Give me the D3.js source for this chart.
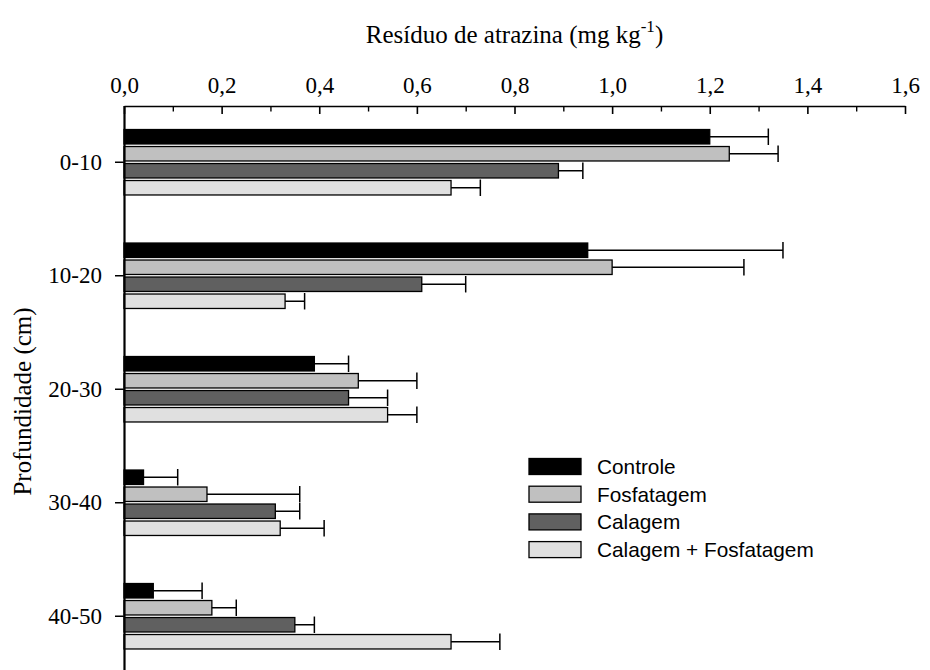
<!DOCTYPE html>
<html>
<head>
<meta charset="utf-8">
<script src="https://cdn.jsdelivr.net/npm/d3@7/dist/d3.min.js"></script>
<style>
  html, body { margin: 0; padding: 0; background: #fff; }
  svg { display: block; }
</style>
</head>
<body>
<svg id="chart" width="930" height="670"></svg>
<script>
// Atrazine residue by soil depth and treatment
const depths = ["0-10", "10-20", "20-30", "30-40", "40-50"];
const treatments = ["Controle", "Fosfatagem", "Calagem", "Calagem + Fosfatagem"];
const fills = ["#000000", "#c0c0c0", "#606060", "#e0e0e0"];

// mean residue (mg kg-1), one array per treatment, ordered by depth
const controle    = [1.20, 0.95, 0.39, 0.04, 0.06];
const fosfatagem  = [1.24, 1.00, 0.48, 0.17, 0.18];
const calagem     = [0.89, 0.61, 0.46, 0.31, 0.35];
const calagemFosf = [0.67, 0.33, 0.54, 0.32, 0.67];

// upper end of the error bar (mean + deviation)
const controleErr    = [1.32, 1.35, 0.46, 0.11, 0.16];
const fosfatagemErr  = [1.34, 1.27, 0.60, 0.36, 0.23];
const calagemErr     = [0.94, 0.70, 0.54, 0.36, 0.39];
const calagemFosfErr = [0.73, 0.37, 0.60, 0.41, 0.77];

const xTicks = [0, 0.2, 0.4, 0.6, 0.8, 1.0, 1.2, 1.4, 1.6];
const xMinorTicks = [0.1, 0.3, 0.5, 0.7, 0.9, 1.1, 1.3, 1.5];

const means = [controle, fosfatagem, calagem, calagemFosf];
const uppers = [controleErr, fosfatagemErr, calagemErr, calagemFosfErr];

const rows = [];
depths.forEach((d, i) => {
  treatments.forEach((t, j) => {
    rows.push({ depth: d, treatment: t, value: means[j][i], upper: uppers[j][i], fill: fills[j] });
  });
});

const svg = d3.select("#chart");
const serif = "'Liberation Serif', 'Times New Roman', serif";
const sans = "'Liberation Sans', Arial, sans-serif";

const x = d3.scaleLinear().domain([0, 1.6]).range([124, 905]);
const y = d3.scaleBand().domain(depths).range([105.5, 673]).paddingInner(0).paddingOuter(0);
const inner = d3.scaleBand().domain(treatments).range([-34, 34]).paddingInner(0.15).paddingOuter(0.075);

const fmt = d => d.toFixed(1).replace(".", ",");

// top value axis, ticks pointing into the plot
const axTop = svg.append("g").attr("transform", "translate(0,106)")
  .call(d3.axisTop(x).tickValues(xTicks).tickFormat(fmt).tickSize(-8).tickSizeOuter(0).tickPadding(13));
axTop.select(".domain").attr("stroke-width", 1.6);
axTop.selectAll(".tick line").attr("stroke-width", 1.6);
axTop.selectAll("text").attr("font-family", serif).attr("font-size", 23).attr("fill", "#000");

const axMinor = svg.append("g").attr("transform", "translate(0,106)")
  .call(d3.axisTop(x).tickValues(xMinorTicks).tickFormat("").tickSize(-5.5).tickSizeOuter(0));
axMinor.select(".domain").remove();
axMinor.selectAll(".tick line").attr("stroke-width", 1.4);

// bars
const bars = svg.append("g");
bars.selectAll("rect").data(rows).join("rect")
  .attr("x", x(0))
  .attr("y", d => y(d.depth) + y.bandwidth() / 2 + inner(d.treatment))
  .attr("width", d => x(d.value) - x(0))
  .attr("height", inner.bandwidth())
  .attr("fill", d => d.fill)
  .attr("stroke", "#000")
  .attr("stroke-width", 1.3);

// error bars
const errs = svg.append("g").attr("stroke", "#000").attr("stroke-width", 1.5);
rows.forEach(d => {
  const cy = y(d.depth) + y.bandwidth() / 2 + inner(d.treatment) + inner.bandwidth() / 2;
  errs.append("line").attr("x1", x(d.value)).attr("x2", x(d.upper)).attr("y1", cy).attr("y2", cy);
  errs.append("line").attr("x1", x(d.upper)).attr("x2", x(d.upper))
    .attr("y1", cy - inner.bandwidth() / 2 - 1).attr("y2", cy + inner.bandwidth() / 2 + 1);
});

// left category axis
const axLeft = svg.append("g").attr("transform", "translate(124,0)")
  .call(d3.axisLeft(y).tickSize(9).tickSizeOuter(0).tickPadding(13));
axLeft.select(".domain").attr("stroke-width", 2.2);
axLeft.selectAll(".tick line").attr("stroke-width", 1.5);
axLeft.selectAll("text").attr("font-family", serif).attr("font-size", 23).attr("fill", "#000");

// axis titles
const title = svg.append("text")
  .attr("x", 514.5).attr("y", 43)
  .attr("text-anchor", "middle")
  .attr("font-family", serif).attr("font-size", 25).attr("fill", "#000");
title.append("tspan").text("Resíduo de atrazina (mg kg");
title.append("tspan").attr("font-size", 17).attr("dy", -11).text("-1");
title.append("tspan").attr("dy", 11).text(")");

svg.append("text")
  .attr("transform", "translate(31,401.5) rotate(-90)")
  .attr("text-anchor", "middle")
  .attr("font-family", serif).attr("font-size", 25).attr("fill", "#000")
  .text("Profundidade (cm)");

// legend
const legend = svg.append("g").attr("transform", "translate(529,458.5)");
treatments.forEach((t, j) => {
  const g = legend.append("g").attr("transform", `translate(0,${j * 27.7})`);
  g.append("rect").attr("width", 52).attr("height", 16)
    .attr("fill", fills[j]).attr("stroke", "#000").attr("stroke-width", 1.3);
  g.append("text").attr("x", 68).attr("y", 15.5)
    .attr("font-family", sans).attr("font-size", 20.8).attr("fill", "#000")
    .text(t);
});
</script>
</body>
</html>
